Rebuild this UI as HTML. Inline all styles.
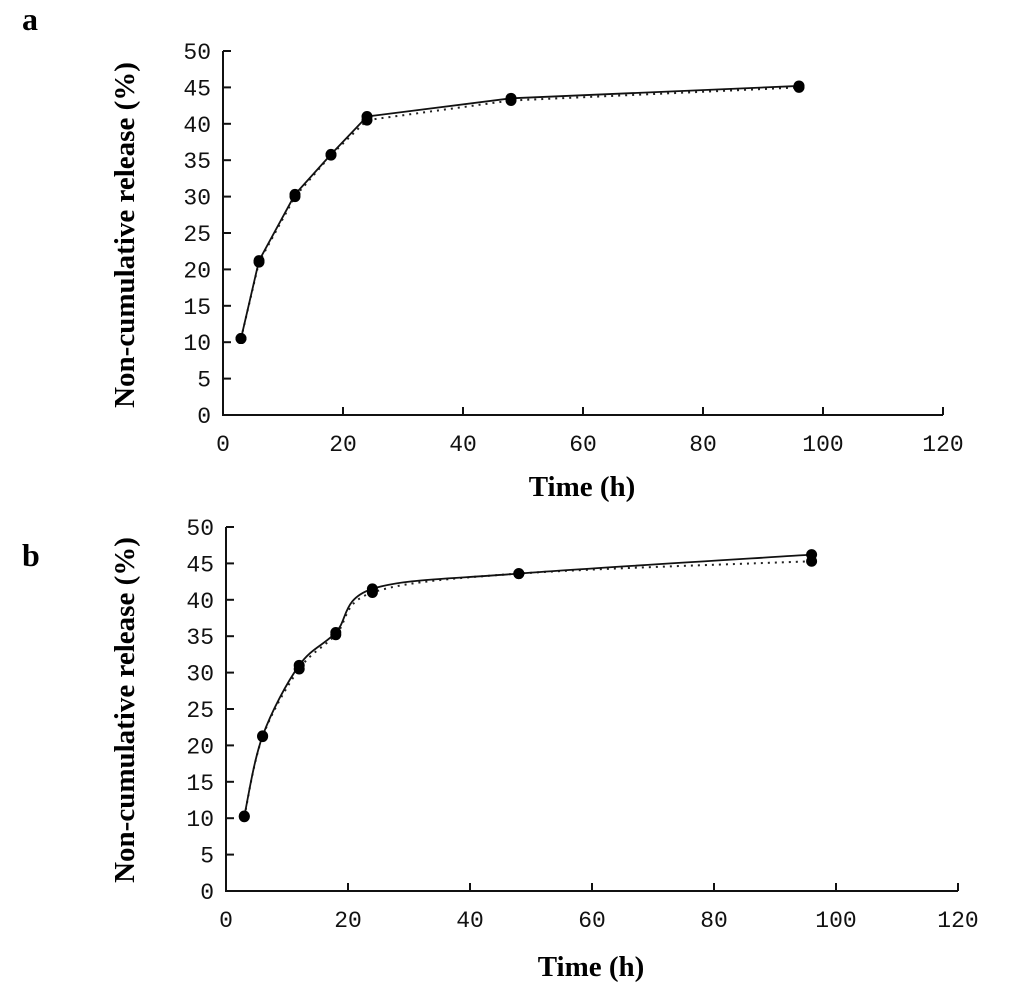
<!DOCTYPE html>
<html><head><meta charset="utf-8">
<style>
body{margin:0;background:#fff;}
svg{display:block;}
.tick{font-family:"Liberation Mono","DejaVu Sans Mono",monospace;font-size:23px;fill:#111;}
.title{font-family:"Liberation Serif",serif;font-weight:bold;font-size:29px;fill:#000;}
.panel{font-family:"Liberation Serif",serif;font-weight:bold;font-size:32px;fill:#000;}
</style></head>
<body>
<svg id="chart" width="1033" height="995" xmlns="http://www.w3.org/2000/svg"></svg>
<script>
const times = [3, 6, 12, 18, 24, 48, 96];
const aSolid = [10.5, 21.2, 30.3, 35.8, 41.0, 43.5, 45.2];
const aDotted = [10.5, 21.0, 30.0, 35.7, 40.5, 43.2, 45.0];
const bSolid = [10.3, 21.3, 31.0, 35.5, 41.5, 43.6, 46.2];
const bDotted = [10.2, 21.2, 30.5, 35.2, 41.0, 43.6, 45.3];
const xTicks = [0, 20, 40, 60, 80, 100, 120];
const yTicks = [0, 5, 10, 15, 20, 25, 30, 35, 40, 45, 50];

const NS = "http://www.w3.org/2000/svg";
const svg = document.getElementById("chart");
function mk(tag, attrs, parent) {
  const e = document.createElementNS(NS, tag);
  for (const k in attrs) e.setAttribute(k, attrs[k]);
  (parent || svg).appendChild(e);
  return e;
}
const panels = [
  {id: "a", x0: 223, x1: 943, y0: 415, y1: 51, solid: aSolid, dotted: aDotted, smooth: false, ly: 235, ty: 496},
  {id: "b", x0: 226, x1: 958, y0: 891, y1: 527, solid: bSolid, dotted: bDotted, smooth: true, ly: 710, ty: 976}
];
panels.forEach(p => {
  const g = mk("g", {});
  
  
  const sx = v => p.x0 + (v / 120) * (p.x1 - p.x0);
  const sy = v => p.y0 - (v / 50) * (p.y0 - p.y1);
  const lbl = mk("text", {x: 22, y: p.id === "a" ? 30 : 566, class: "panel"}, g);
  lbl.textContent = p.id;
  
  
  const ax = mk("path", {d: `M${p.x0},${p.y1}V${p.y0}H${p.x1}`, stroke: "#111", "stroke-width": 2, fill: "none"}, g);
  
  
  yTicks.forEach(v => {
    mk("line", {x1: p.x0, x2: p.x0 + 8, y1: sy(v), y2: sy(v), stroke: "#111", "stroke-width": 2}, g);
    const t = mk("text", {x: p.x0 - 12, y: sy(v) + 8, class: "tick", "text-anchor": "end"}, g);
    t.textContent = v;
    
    
  });
  xTicks.forEach(v => {
    mk("line", {x1: sx(v), x2: sx(v), y1: p.y0, y2: p.y0 - 8, stroke: "#111", "stroke-width": 2}, g);
    const t = mk("text", {x: sx(v), y: p.y0 + 36, class: "tick", "text-anchor": "middle"}, g);
    t.textContent = v;
    
    
  });
  const yt = mk("text", {x: 0, y: 0, class: "title", "text-anchor": "middle", transform: `translate(134,${p.ly}) rotate(-90)`}, g);
  yt.textContent = "Non-cumulative release (%)";
  
  
  const xt = mk("text", {x: (p.x0 + p.x1) / 2 - 1, y: p.ty, class: "title", "text-anchor": "middle"}, g);
  xt.textContent = "Time (h)";
  
  
  function pathFor(vals) {
    const pts = times.map((t, i) => [sx(t), sy(vals[i])]);
    if (!p.smooth) return "M" + pts.map(q => q.join(",")).join("L");
    let d = "M" + pts[0].join(",");
    for (let i = 0; i < pts.length - 1; i++) {
      const p0 = pts[Math.max(0, i - 1)], p1 = pts[i], p2 = pts[i + 1], p3 = pts[Math.min(pts.length - 1, i + 2)];
      const c1 = [p1[0] + (p2[0] - p0[0]) / 6, p1[1] + (p2[1] - p0[1]) / 6];
      const c2 = [p2[0] - (p3[0] - p1[0]) / 6, p2[1] - (p3[1] - p1[1]) / 6];
      d += `C${c1.join(",")} ${c2.join(",")} ${p2.join(",")}`;
    }
    return d;
  }
  const dl = mk("path", {d: pathFor(p.dotted), stroke: "#222", "stroke-width": 2, fill: "none", "stroke-dasharray": "2,5"}, g);
  
  
  const sl = mk("path", {d: pathFor(p.solid), stroke: "#111", "stroke-width": 1.8, fill: "none"}, g);
  
  
  [p.solid, p.dotted].forEach((vals, k) => {
    times.forEach((t, i) => {
      const c = mk("circle", {cx: sx(t), cy: sy(vals[i]), r: 5.5, fill: "#000"}, g);
      
      
    });
  });
});
</script>
</body></html>
